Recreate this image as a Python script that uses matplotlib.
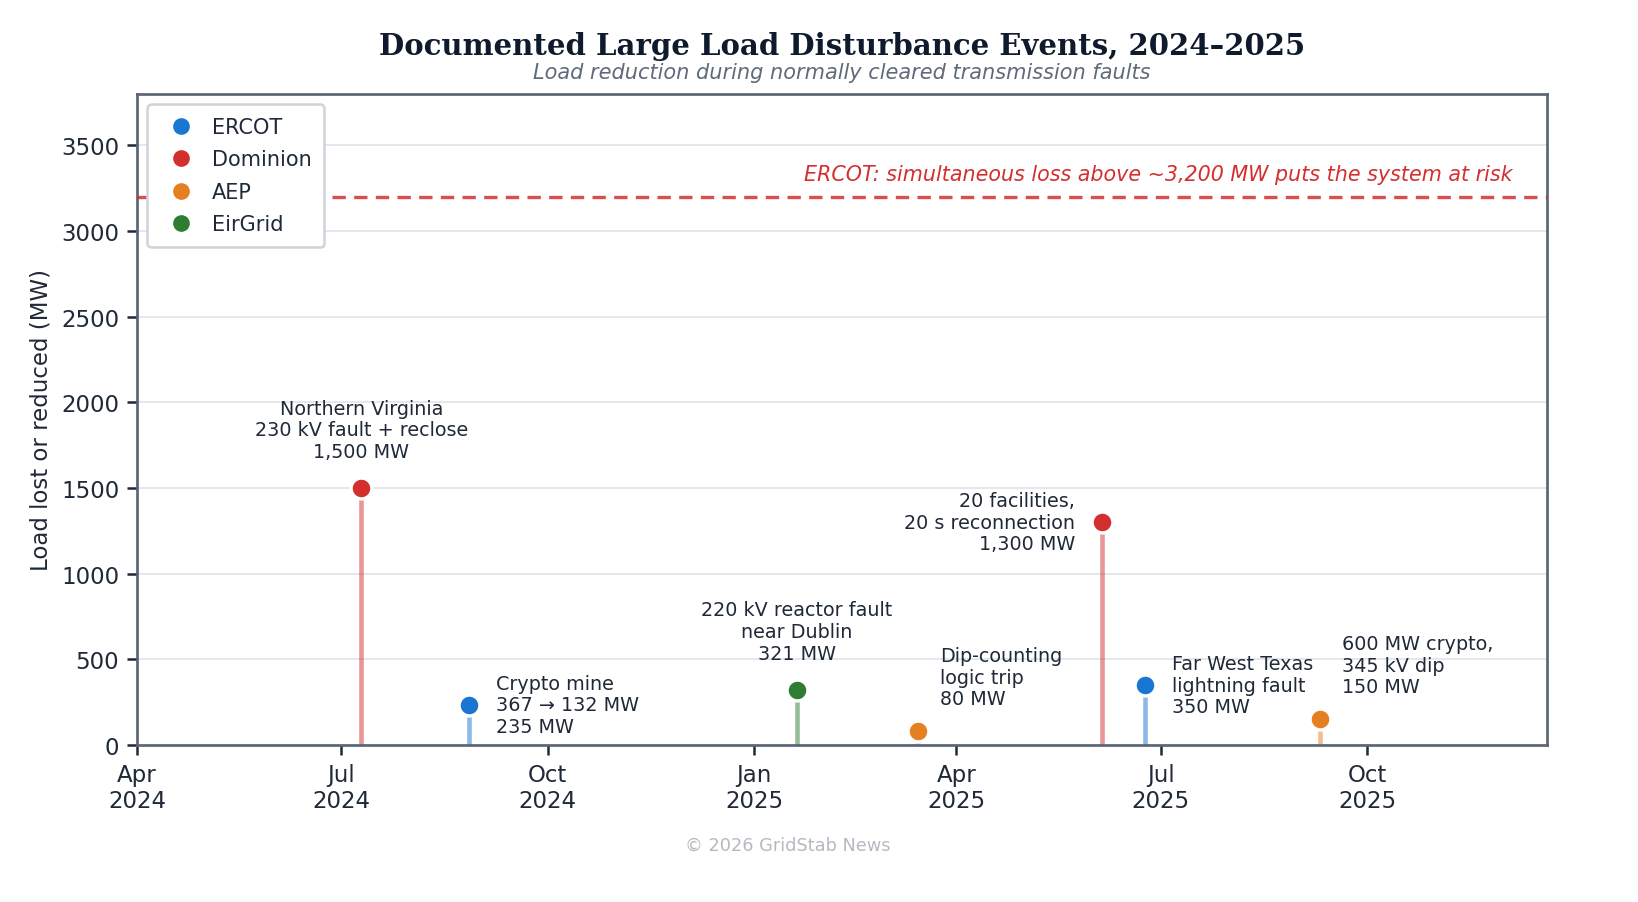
import matplotlib
matplotlib.use("Agg")
import matplotlib.pyplot as plt
import matplotlib.dates as mdates
import pandas as pd

# ---- data ----
dates = ["2024-07-10", "2024-08-27", "2025-01-20", "2025-03-15",
         "2025-06-05", "2025-06-24", "2025-09-10"]
operators = ["Dominion", "ERCOT", "EirGrid", "AEP", "Dominion", "ERCOT", "AEP"]
load_mw = [1500, 235, 321, 80, 1300, 350, 150]
labels = [
    "Northern Virginia\n230 kV fault + reclose\n1,500 MW",
    "Crypto mine\n367 \u2192 132 MW\n235 MW",
    "220 kV reactor fault\nnear Dublin\n321 MW",
    "Dip-counting\nlogic trip\n80 MW",
    "20 facilities,\n20 s reconnection\n1,300 MW",
    "Far West Texas\nlightning fault\n350 MW",
    "600 MW crypto,\n345 kV dip\n150 MW",
]
legend_order = ["ERCOT", "Dominion", "AEP", "EirGrid"]
threshold_mw = 3200
threshold_text = "ERCOT: simultaneous loss above ~3,200 MW puts the system at risk"

# ---- style ----
colors = {"ERCOT": "#1976d2", "Dominion": "#d32f2f", "AEP": "#e67e22", "EirGrid": "#2e7d32"}
# label placement: (ha, va, dx_pt, dy_pt)
placement = [
    ("center", "bottom", 0, 13),
    ("left", "center", 13, 0),
    ("center", "bottom", 0, 13),
    ("left", "center", 10.5, 26),
    ("right", "center", -13, 0),
    ("left", "center", 13, 0),
    ("left", "center", 10.5, 26),
]

plt.rcParams["font.family"] = ["DejaVu Sans"]
fig = plt.figure(figsize=(10.92, 6.02), dpi=150)
ax = fig.add_axes([0.0836, 0.1739, 0.8608, 0.7209])

x = pd.to_datetime(dates)
text_color = "#1f2937"
spine_color = "#5b6575"

ax.set_ylim(0, 3800)
ax.set_xlim(pd.Timestamp("2024-04-01"), pd.Timestamp("2025-12-20"))
ax.set_yticks(range(0, 3501, 500))
ax.grid(axis="y", color="#e3e6ea", linewidth=0.9)
ax.set_axisbelow(True)

for xi, op, v in zip(x, operators, load_mw):
    c = colors[op]
    ax.vlines(xi, 0, v, color=c, alpha=0.5, linewidth=2.2, zorder=2)
    ax.plot([xi], [v], "o", color=c, markersize=10, markeredgecolor="white",
            markeredgewidth=1.6, zorder=4)

for xi, v, lab, (ha, va, dx, dy) in zip(x, load_mw, labels, placement):
    ax.annotate(lab, (xi, v), xytext=(dx, dy), textcoords="offset points",
                ha=ha, va=va, fontsize=9.2, color=text_color, linespacing=1.18,
                multialignment=ha if ha != "center" else "center", zorder=5)

ax.axhline(threshold_mw, color="#d32f2f", linestyle=(0, (4, 2.5)), linewidth=1.6,
           alpha=0.85, zorder=3)
ax.text(0.976, 3335, threshold_text, transform=ax.get_yaxis_transform(),
        ha="right", va="center", fontsize=9.9, style="italic", color="#d32f2f")

for op in legend_order:
    ax.plot([], [], "o", color=colors[op], markersize=7, label=op)
leg = ax.legend(loc="upper left", fontsize=10, frameon=True, fancybox=True,
                edgecolor="#cfd4da", labelspacing=0.6, handletextpad=0.5,
                borderpad=0.6, framealpha=1.0)
leg.get_frame().set_linewidth(1.2)
for t in leg.get_texts():
    t.set_color(text_color)

ax.xaxis.set_major_locator(mdates.MonthLocator(bymonth=[1, 4, 7, 10]))
ax.xaxis.set_major_formatter(mdates.DateFormatter("%b\n%Y"))
ax.tick_params(axis="both", labelsize=11, colors=text_color, length=5, width=1.2)
for s in ax.spines.values():
    s.set_color(spine_color)
    s.set_linewidth(1.3)

ax.set_ylabel("Load lost or reduced (MW)", fontsize=11, color=text_color)

fig.text(0.514, 0.949, "Documented Large Load Disturbance Events, 2024\u20132025",
         ha="center", va="center", fontsize=14, fontweight="bold",
         family="DejaVu Serif", color="#0f1b2d")
fig.text(0.514, 0.919, "Load reduction during normally cleared transmission faults",
         ha="center", va="center", fontsize=10, style="italic", color="#5f6b7a")
fig.text(0.481, 0.063, "\u00a9 2026 GridStab News", ha="center", va="center",
         fontsize=8.5, color="#b5bac1")

fig.savefig("out.png", dpi=150, facecolor="white")
